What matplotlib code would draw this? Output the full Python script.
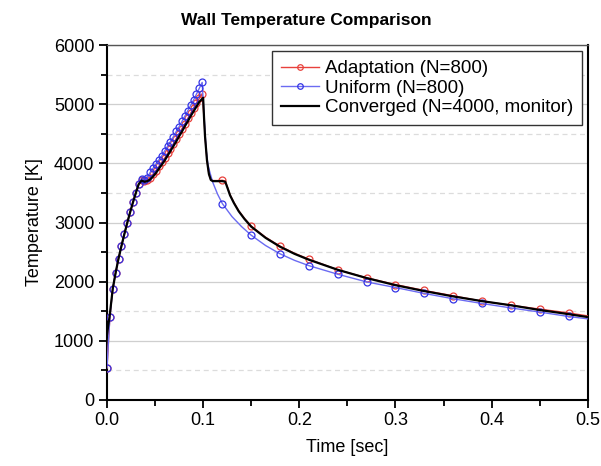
import matplotlib
matplotlib.use("Agg")
import matplotlib.pyplot as plt
from matplotlib.ticker import MultipleLocator

plt.rcParams['font.family'] = ['Liberation Sans', 'DejaVu Sans']

# sampled output times (dense output up to 0.1 s, sparse afterwards)
t_early = [0.000, 0.003, 0.006, 0.009, 0.012, 0.015, 0.018, 0.021, 0.024, 0.027,
           0.030, 0.033, 0.036, 0.039, 0.042, 0.045, 0.048, 0.051, 0.054, 0.057,
           0.060, 0.063, 0.066, 0.069, 0.072, 0.075, 0.078, 0.081, 0.084, 0.087,
           0.090, 0.093, 0.096, 0.099]
marker_times_late = [0.12, 0.15, 0.18, 0.21, 0.24, 0.27, 0.30, 0.33, 0.36, 0.39,
                     0.42, 0.45, 0.48]

# Adaptation (N=800)
adapt_T_early = [540, 1400, 1880, 2150, 2390, 2600, 2800, 2990, 3170, 3340,
                 3500, 3650, 3720, 3700, 3720, 3760, 3820, 3880, 3950, 4020,
                 4090, 4170, 4250, 4330, 4420, 4500, 4590, 4670, 4760, 4850,
                 4930, 5020, 5100, 5180]
adapt_t_late = [0.101, 0.102, 0.104, 0.106, 0.108, 0.110, 0.115, 0.120, 0.123, 0.125,
                0.128, 0.132, 0.137, 0.143, 0.15, 0.165, 0.18, 0.195, 0.21, 0.24,
                0.27, 0.30, 0.33, 0.36, 0.39, 0.42, 0.45, 0.48, 0.50]
adapt_T_late = [4750, 4450, 4050, 3820, 3720, 3710, 3710, 3715, 3700, 3610,
                3470, 3340, 3200, 3070, 2940, 2750, 2600, 2480, 2380, 2200,
                2065, 1950, 1850, 1760, 1670, 1600, 1535, 1470, 1420]

# Uniform (N=800)
unif_T_early = [540, 1400, 1880, 2150, 2390, 2600, 2800, 2990, 3170, 3340,
                3500, 3650, 3730, 3720, 3760, 3850, 3920, 3990, 4060, 4130,
                4210, 4290, 4370, 4450, 4540, 4620, 4710, 4800, 4890, 4980,
                5070, 5170, 5270, 5370]
unif_t_late = [0.101, 0.103, 0.105, 0.107, 0.110, 0.115, 0.120, 0.13, 0.14, 0.15,
               0.165, 0.18, 0.195, 0.21, 0.24, 0.27, 0.30, 0.33, 0.36, 0.39,
               0.42, 0.45, 0.48, 0.50]
unif_T_late = [4800, 4250, 3980, 3850, 3680, 3480, 3320, 3100, 2930, 2785,
               2610, 2470, 2360, 2270, 2125, 1995, 1900, 1800, 1710, 1630,
               1555, 1485, 1410, 1370]

# Converged (N=4000, monitor)
conv_t = [0.000, 0.003, 0.006, 0.009, 0.012, 0.015, 0.018, 0.021, 0.024, 0.027,
          0.030, 0.033, 0.036, 0.039, 0.042, 0.045, 0.048, 0.051, 0.054, 0.057,
          0.060, 0.063, 0.066, 0.069, 0.072, 0.075, 0.078, 0.081, 0.084, 0.087,
          0.090, 0.093, 0.096, 0.100, 0.101, 0.102, 0.104, 0.106, 0.108, 0.110,
          0.115, 0.120, 0.123, 0.125, 0.128, 0.132, 0.137, 0.143, 0.15, 0.165,
          0.18, 0.195, 0.21, 0.24, 0.27, 0.30, 0.33, 0.36, 0.39, 0.42,
          0.45, 0.48, 0.50]
conv_T = [1100, 1450, 1880, 2150, 2390, 2600, 2800, 2990, 3170, 3340,
          3500, 3650, 3710, 3690, 3700, 3730, 3780, 3840, 3910, 3980,
          4050, 4130, 4210, 4290, 4370, 4460, 4540, 4630, 4710, 4800,
          4880, 4960, 5040, 5110, 4750, 4450, 4050, 3820, 3720, 3700,
          3700, 3700, 3690, 3600, 3460, 3330, 3190, 3060, 2930, 2740,
          2590, 2470, 2370, 2200, 2060, 1940, 1840, 1750, 1670, 1600,
          1520, 1450, 1400]


def marker_idx(ts):
    return [i for i, t in enumerate(ts)
            if t <= 0.1 or any(abs(t - m) < 1e-6 for m in marker_times_late)]


fig = plt.figure(figsize=(6.01, 4.66), dpi=100)
ax = fig.add_axes([0.178, 0.142, 0.800, 0.761])

adapt_t = t_early + adapt_t_late
adapt_T = adapt_T_early + adapt_T_late
unif_t = t_early + unif_t_late
unif_T = unif_T_early + unif_T_late

ax.plot(adapt_t, adapt_T, color='#e8413c', lw=1.0, marker='o', ms=5,
        mfc='none', mew=0.9, markevery=marker_idx(adapt_t),
        label='Adaptation (N=800)', zorder=3)
ax.plot(unif_t, unif_T, color='#6b6bf2', lw=1.0, marker='o', ms=5,
        mfc='none', mew=0.9, mec='#3434e6', markevery=marker_idx(unif_t),
        label='Uniform (N=800)', zorder=4)
ax.plot(conv_t, conv_T, color='black', lw=1.6,
        label='Converged (N=4000, monitor)', zorder=5)

ax.set_xlim(0, 0.5)
ax.set_ylim(0, 6000)
ax.xaxis.set_major_locator(MultipleLocator(0.1))
ax.xaxis.set_minor_locator(MultipleLocator(0.05))
ax.yaxis.set_major_locator(MultipleLocator(1000))
ax.yaxis.set_minor_locator(MultipleLocator(500))
ax.xaxis.set_major_formatter(matplotlib.ticker.FormatStrFormatter('%.1f'))

ax.grid(axis='y', which='major', color='#cfcfcf', lw=0.9, ls='-')
ax.grid(axis='y', which='minor', color='#dcdcdc', lw=0.9, ls=(0, (4, 3)))
ax.set_axisbelow(True)

ax.tick_params(which='both', direction='out', top=False, right=False,
               labelsize=13, width=1.3, pad=3)
ax.tick_params(which='major', length=6)
ax.tick_params(which='minor', length=4)
for side in ['left', 'bottom', 'right']:
    ax.spines[side].set_linewidth(1.5)
ax.spines['top'].set_color('#555555')
ax.spines['top'].set_linewidth(1.0)

ax.set_xlabel('Time [sec]', fontsize=13, labelpad=7)
ax.set_ylabel('Temperature [K]', fontsize=13, labelpad=8)
fig.text(0.51, 0.955, 'Wall Temperature Comparison', ha='center', va='center',
         fontsize=12.5, fontweight='bold')

leg = ax.legend(loc='upper right', fontsize=13.5, frameon=True, fancybox=False,
                edgecolor='#333333', handlelength=2.0, handletextpad=0.3,
                borderpad=0.5, labelspacing=0.12, borderaxespad=0.3,
                markerscale=0.8, framealpha=1)
leg.get_frame().set_linewidth(1.0)

fig.savefig('out.png', dpi=100)
